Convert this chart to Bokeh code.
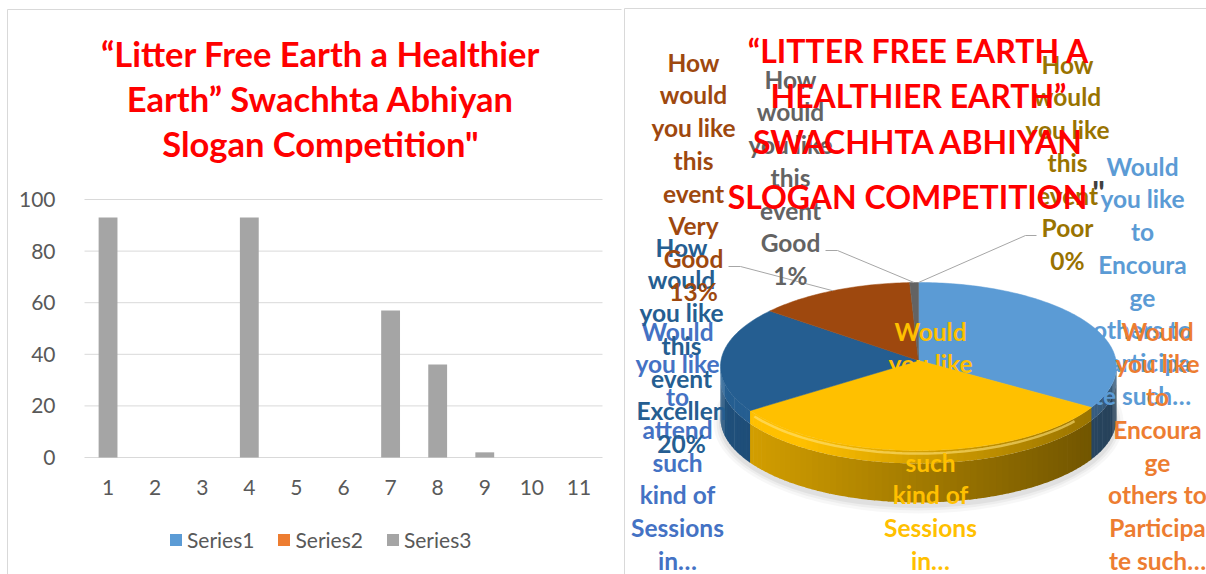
import numpy as np
from bokeh.plotting import figure
from bokeh.models import Range1d, FixedTicker, Legend, LegendItem, LinearAxis, ColumnDataSource
from bokeh.embed import file_html
from bokeh.resources import INLINE
from bokeh.core.properties import value

# ---------------- data ----------------
categories = [1, 2, 3, 4, 5, 6, 7, 8, 9, 10, 11]
series1 = [float("nan")] * len(categories)   # no values shown
series2 = [float("nan")] * len(categories)   # no values shown
series3 = [93, 0, 0, 93, 0, 0, 57, 36, 2, 0, 0]
series_names = ["Series1", "Series2", "Series3"]
y_ticks = [0, 20, 40, 60, 80, 100]

left_title = ["\u201cLitter Free Earth a Healthier", "Earth\u201d Swachhta Abhiyan", "Slogan Competition\""]
right_title = ["\u201cLITTER FREE EARTH A", "HEALTHIER EARTH\u201d", "SWACHHTA ABHIYAN", "SLOGAN COMPETITION"]
right_title_tail = "\""

pie_values = series3
pie_label_lines = [
    ["Would", "you like", "to", "Encoura", "ge", "others to", "Participa", "te such\u2026"],
    ["Would", "you like", "to", "Encoura", "ge", "others to", "Participa", "te such\u2026"],
    None,
    ["Would", "you like", "to", "attend", "such", "kind of", "Sessions", "in\u2026"],
    ["Would", "you like", "to", "attend", "such", "kind of", "Sessions", "in\u2026"],
    None,
    ["How", "would", "you like", "this", "event", "Excellen"],
    ["How", "would", "you like", "this", "event", "Very", "Good"],
    ["How", "would", "you like", "this", "event", "Good"],
    ["How", "would", "you like", "this", "event", "Poor"],
    None,
]
pie_show_pct = [False, False, False, False, False, False, True, True, True, True, False]

# ---------------- styles / layout ----------------
series_colors = ["#5B9BD5", "#ED7D31", "#A5A5A5"]
pie_colors = ["#5B9BD5", "#ED7D31", "#A5A5A5", "#FFC000", "#4472C4", "#70AD47",
              "#255E91", "#9E480E", "#636363", "#997300", "#264478"]
FONT_NAME = "Lato"
FONT = value(FONT_NAME)
AXIS_COL = "#595959"
RED = "#FF0000"
W, H = 1206, 574
CAP = 0.7165      # Lato cap height / em
BASE_FIX = 0.41   # empirical baseline correction / em

def baseline(center_y, size):
    return center_y + CAP * size / 2 - BASE_FIX * size

# bar-chart plot area in page pixels
PA_L, PA_R, PA_TOP, PA_BOT = 84.0, 602.0, 199.0, 457.0
x_lo, x_hi = categories[0] - 0.5, categories[-1] + 0.5
y_lo, y_hi = 0.0, 100.0
kx = (PA_R - PA_L) / (x_hi - x_lo)
ky = (PA_BOT - PA_TOP) / (y_hi - y_lo)
bx_start = x_lo - PA_L / kx
by_start = y_lo - (H - PA_BOT) / ky

# label anchors (center x, center y of first line) in page pixels
label_anchor = {0: (1142, 167), 1: (1157, 332), 3: (930, 332), 4: (677, 332),
                6: (681, 248), 7: (693, 63), 8: (790, 80), 9: (1067, 65)}
label_order = [0, 1, 3, 4, 6, 7, 8, 9]
LINE_H = 32.7
LAB_SIZE = 24.5
TITLE_L = 34.5
TITLE_R = 32.0
leader_start = {7: [(728, 266), (740, 266)], 8: [(825, 250), (837, 250)], 9: [(1036, 235), (1025, 235)]}

p = figure(width=W, height=H, x_range=Range1d(0, W), y_range=Range1d(H, 0),
           output_backend="svg", toolbar_location=None, min_border=0,
           x_axis_type=None, y_axis_type=None)
p.extra_x_ranges = {"bx": Range1d(bx_start, bx_start + W / kx)}
p.extra_y_ranges = {"by": Range1d(by_start, by_start + H / ky)}
p.grid.visible = False
p.outline_line_color = None

# panel borders
p.multi_line([[7, 7, 621], [624, 624, W]], [[H, 9, 9], [H, 8, 8]], line_color="#D9D9D9", line_width=1)

# ---------------- left: column chart ----------------
p.segment(x0=[x_lo] * len(y_ticks), x1=[x_hi] * len(y_ticks), y0=y_ticks, y1=y_ticks,
          x_range_name="bx", y_range_name="by", line_color="#D9D9D9", line_width=1)

src = ColumnDataSource(dict(x=categories, s1=series1, s2=series2, s3=series3))
r1 = p.vbar(x="x", top="s1", width=0.4, source=src, fill_color=series_colors[0], line_color=None,
            x_range_name="bx", y_range_name="by")
r2 = p.vbar(x="x", top="s2", width=0.4, source=src, fill_color=series_colors[1], line_color=None,
            x_range_name="bx", y_range_name="by")
r3 = p.vbar(x="x", top="s3", width=0.4, source=src, fill_color=series_colors[2], line_color=None,
            x_range_name="bx", y_range_name="by")

yaxis = LinearAxis(x_range_name="bx", y_range_name="by", fixed_location=x_lo,
                   ticker=FixedTicker(ticks=y_ticks))
xaxis = LinearAxis(x_range_name="bx", y_range_name="by", fixed_location=y_lo,
                   ticker=FixedTicker(ticks=categories))
for ax in (xaxis, yaxis):
    ax.axis_line_color = None
    ax.major_tick_line_color = None
    ax.minor_tick_line_color = None
    ax.major_label_text_font = FONT_NAME
    ax.major_label_text_font_size = "21px"
    ax.major_label_text_color = AXIS_COL
yaxis.major_label_standoff = 23
xaxis.major_label_standoff = 16
p.add_layout(yaxis, "left")
p.add_layout(xaxis, "below")

legend = Legend(items=[LegendItem(label=series_names[0], renderers=[r1]),
                       LegendItem(label=series_names[1], renderers=[r2]),
                       LegendItem(label=series_names[2], renderers=[r3])],
                location=(168, 22), orientation="horizontal",
                glyph_width=15, glyph_height=15, label_standoff=4, spacing=22,
                padding=0, margin=0, border_line_color=None, background_fill_alpha=0,
                label_text_font=FONT_NAME, label_text_font_size="21px", label_text_color=AXIS_COL)
p.add_layout(legend, "center")

p.text(x=[320, 320, 320], y=[baseline(c, TITLE_L) for c in (54.5, 100, 145)], text=left_title,
       text_color=RED, text_font=FONT, text_font_style="bold", text_font_size="%.1fpx" % TITLE_L,
       text_align="center", text_baseline="alphabetic")

# ---------------- right: 3D pie ----------------
cx, cy, rx, ry, depth, bevel = 918.0, 366.0, 198.0, 84.0, 52.0, 13.0
apex = (918.0, 360.0)

def edge(theta, dy=0.0):
    t = np.radians(theta)
    return cx + rx * np.sin(t), cy - ry * np.cos(t) + dy

def shade(hexcol, k):
    h = hexcol.lstrip("#")
    r, g, b = (int(h[i:i + 2], 16) for i in (0, 2, 4))
    k = min(k, 1.0)
    return "#%02x%02x%02x" % (int(r * k), int(g * k), int(b * k))

vals = np.array(pie_values, dtype=float)
total = vals.sum()
ends = np.cumsum(vals) / total * 360.0
starts = ends - vals / total * 360.0

# soft shadow
for grow, a in [(14, 0.03), (8, 0.04), (3, 0.05)]:
    p.ellipse(x=cx, y=cy + depth + 4, width=2 * rx + grow, height=2 * ry + grow, fill_color="black",
              fill_alpha=a, line_color=None)

# side walls (wall + bevel band)
sx, sy, sc = [], [], []
for i, v in enumerate(pie_values):
    if v <= 0:
        continue
    lo, hi = max(starts[i], 90.0), min(ends[i], 270.0)
    if hi <= lo:
        continue
    steps = np.linspace(lo, hi, max(2, int((hi - lo) / 2.0) + 2))
    for a0, a1 in zip(steps[:-1], steps[1:]):
        th = np.linspace(a0, a1 + 0.3, 4)
        s = np.sin(np.radians((a0 + a1) / 2))
        k = 0.64 - 0.22 * s
        for d0, d1, kk in [(bevel, depth, k), (0.0, bevel, k + 0.2 - 0.05 * s)]:
            tx, ty = edge(th, d0)
            bx, by = edge(th[::-1], d1)
            sx.append(list(tx) + list(bx))
            sy.append(list(ty) + list(by))
            sc.append(shade(pie_colors[i], kk))
p.patches(sx, sy, fill_color=sc, line_color=None)

# top faces
tx_all, ty_all, tc = [], [], []
for i, v in enumerate(pie_values):
    if v <= 0:
        continue
    th = np.linspace(starts[i], ends[i], max(2, int((ends[i] - starts[i]) / 1.0) + 2))
    ex, ey = edge(th)
    tx_all.append([apex[0]] + list(ex))
    ty_all.append([apex[1]] + list(ey))
    tc.append(pie_colors[i])
p.patches(tx_all, ty_all, fill_color=tc, line_color=tc, line_width=0.5)

# rim highlight on front
th = np.linspace(128, 236, 60)
hx, hy = edge(th, 3)
p.line(hx, hy, line_color="#FFE27A", line_width=2.5, line_alpha=0.6)

# leader lines
lxs, lys = [], []
for i, pts in leader_start.items():
    mid = (starts[i] + ends[i]) / 2
    ex, ey = edge(mid)
    lxs.append([q[0] for q in pts] + [float(ex)])
    lys.append([q[1] for q in pts] + [float(ey)])
p.multi_line(lxs, lys, line_color="#A6A6A6", line_width=1)

# data labels
for i in label_order:
    lines = list(pie_label_lines[i])
    if pie_show_pct[i]:
        lines.append("%d%%" % round(pie_values[i] / total * 100))
    ax_, ay_ = label_anchor[i]
    ys = [baseline(ay_ + j * LINE_H, LAB_SIZE) for j in range(len(lines))]
    p.text(x=[ax_] * len(lines), y=ys, text=lines, text_color=pie_colors[i], text_font=FONT,
           text_font_style="bold", text_font_size="%.1fpx" % LAB_SIZE, text_align="center",
           text_baseline="alphabetic")

# right title
p.text(x=[918, 918, 918, 907], y=[baseline(c, TITLE_R) for c in (52, 97, 143, 198)], text=right_title,
       text_color=RED, text_font=FONT, text_font_style="bold", text_font_size="%.1fpx" % TITLE_R,
       text_align="center", text_baseline="alphabetic")
p.text(x=[1098], y=[baseline(194, TITLE_R)], text=[right_title_tail], text_color="#404040", text_font=FONT,
       text_font_style="bold", text_font_size="%.1fpx" % TITLE_R, text_align="center",
       text_baseline="alphabetic")

open("out.html", "w").write(file_html(p, INLINE))
